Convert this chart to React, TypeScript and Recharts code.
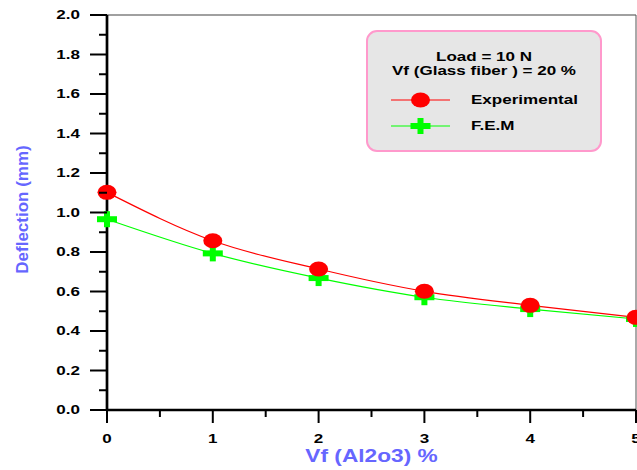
import { LineChart, Line, XAxis, YAxis, Legend, Label, ReferenceLine } from 'recharts';

const vfAl2o3 = [0, 1, 2, 3, 4, 5];
const experimental = [1.102, 0.857, 0.714, 0.601, 0.53, 0.469];
const fem = [0.966, 0.793, 0.668, 0.571, 0.511, 0.461];

const xTicks = [0, 0.5, 1, 1.5, 2, 2.5, 3, 3.5, 4, 4.5, 5];
const yTicks = [0, 0.1, 0.2, 0.3, 0.4, 0.5, 0.6, 0.7, 0.8, 0.9, 1.0, 1.1, 1.2, 1.3, 1.4, 1.5, 1.6, 1.7, 1.8, 1.9, 2.0];

const legendTitle = ['Load = 10 N', 'Vf (Glass fiber ) = 20 %'];
const seriesNames = ['Experimental', 'F.E.M'];

const data = vfAl2o3.map((x, i) => ({ x, exp: experimental[i], fem: fem[i] }));

const RED = '#ff0000';
const GREEN = '#00ff00';
const BLUE = '#6666ff';
const FONT = 'Arial, "Liberation Sans", sans-serif';
const STRETCH = 1.42;

// text in the original is drawn wide, so it gets stretched sideways
const WideText = ({ x, y, anchor = 'start', size = 12, scale = STRETCH, fill = '#000', children }: any) => (
  <text
    transform={`translate(${x},${y}) scale(${scale},1)`}
    textAnchor={anchor}
    fontFamily={FONT}
    fontWeight="bold"
    fontSize={size}
    fill={fill}
  >
    {children}
  </text>
);

const Dot = ({ cx, cy }: any) => <ellipse cx={cx} cy={cy} rx={9.5} ry={7.5} fill={RED} />;

const Plus = ({ cx, cy }: any) => (
  <g fill={GREEN}>
    <rect x={cx - 10} y={cy - 3} width={20} height={6} />
    <rect x={cx - 3} y={cy - 8} width={6} height={16} />
  </g>
);

const XTick = (props: any) => {
  const { x, y, payload, index } = props;
  const major = index % 2 === 0;
  return (
    <g>
      <line x1={x} x2={x} y1={y} y2={y + (major ? 13 : 7)} stroke="#000" strokeWidth={2} />
      {major && (
        <WideText x={x} y={y + 33} anchor="middle">
          {payload.value}
        </WideText>
      )}
    </g>
  );
};

const YTick = (props: any) => {
  const { x, y, payload, index } = props;
  const major = index % 2 === 0;
  return (
    <g>
      <line x1={x - (major ? 17 : 8)} x2={x} y1={y} y2={y} stroke="#000" strokeWidth={2} />
      {major && (
        <WideText x={x - 27} y={y + 4.3} anchor="end">
          {Number(payload.value).toFixed(1)}
        </WideText>
      )}
    </g>
  );
};

const LegendBox = () => (
  <svg width={236} height={122} style={{ display: 'block' }}>
    <rect x={1} y={1} width={234} height={120} rx={10} ry={10} fill="#e6e6e6" stroke="#ff99cc" strokeWidth={2} />
    <WideText x={118} y={30.5} anchor="middle">{legendTitle[0]}</WideText>
    <WideText x={118} y={44.5} anchor="middle">{legendTitle[1]}</WideText>
    <line x1={25} x2={84} y1={70} y2={70} stroke={RED} strokeWidth={1.2} />
    <Dot cx={54.5} cy={70} />
    <WideText x={105} y={74.3}>{seriesNames[0]}</WideText>
    <line x1={25} x2={84} y1={96} y2={96} stroke={GREEN} strokeWidth={1.2} />
    <Plus cx={54.5} cy={96} />
    <WideText x={105} y={100.3}>{seriesNames[1]}</WideText>
  </svg>
);

export default function App() {
  return (
    <div style={{ position: 'absolute', left: 0, top: 0 }}>
      <LineChart width={637} height={470} data={data} margin={{ top: 15, right: 1, bottom: 0, left: 0 }}>
        <ReferenceLine y={2} stroke="#808080" strokeWidth={1.5} />
        <ReferenceLine x={5} stroke="#555555" strokeWidth={1} />
        <XAxis
          type="number"
          dataKey="x"
          domain={[0, 5]}
          ticks={xTicks}
          interval={0}
          tickSize={0}
          tickMargin={0}
          tickLine={false}
          tick={<XTick />}
          axisLine={{ stroke: '#000', strokeWidth: 2.7 }}
          height={60}
        >
          <Label
            content={({ viewBox }: any) => (
              <WideText
                x={viewBox.x + viewBox.width / 2}
                y={viewBox.y + 51.5}
                anchor="middle"
                size={18}
                scale={1.26}
                fill={BLUE}
              >
                Vf (Al2o3) %
              </WideText>
            )}
          />
        </XAxis>
        <YAxis
          type="number"
          domain={[0, 2]}
          ticks={yTicks}
          interval={0}
          tickSize={0}
          tickMargin={0}
          tickLine={false}
          tick={<YTick />}
          axisLine={{ stroke: '#000', strokeWidth: 2.7 }}
          width={107}
        >
          <Label
            content={({ viewBox }: any) => (
              <text
                transform={`translate(${viewBox.x + 28},${viewBox.y + viewBox.height / 2 - 3}) rotate(-90)`}
                textAnchor="middle"
                fontFamily={FONT}
                fontWeight="bold"
                fontSize={17}
                fill={BLUE}
              >
                Deflection (mm)
              </text>
            )}
          />
        </YAxis>
        <Legend
          layout="horizontal"
          verticalAlign="middle"
          align="center"
          wrapperStyle={{ left: 366, top: 30, width: 236 }}
          content={() => <LegendBox />}
        />
        <Line
          type="monotone"
          dataKey="fem"
          name={seriesNames[1]}
          stroke={GREEN}
          strokeWidth={1.2}
          dot={(p: any) => <Plus key={`f${p.index}`} cx={p.cx} cy={p.cy} />}
          activeDot={false}
          isAnimationActive={false}
        />
        <Line
          type="monotone"
          dataKey="exp"
          name={seriesNames[0]}
          stroke={RED}
          strokeWidth={1.2}
          dot={(p: any) => <Dot key={`e${p.index}`} cx={p.cx} cy={p.cy} />}
          activeDot={false}
          isAnimationActive={false}
        />
      </LineChart>
    </div>
  );
}
